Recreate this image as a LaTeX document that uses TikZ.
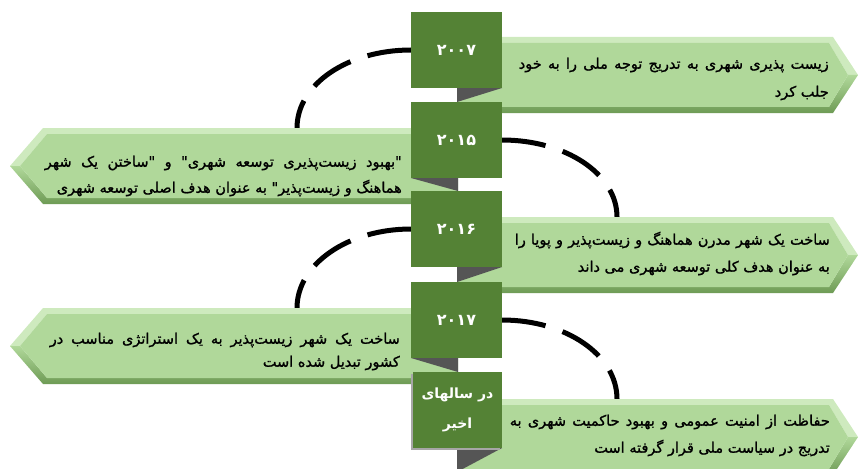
\documentclass[tikz,border=0pt]{standalone}
\usepackage{fontspec}
\newfontfamily\arabicfont[Script=Arabic,FakeBold=1.2]{DejaVu Sans}
\newfontfamily\yearfont[Script=Arabic]{DejaVu Sans}
\TeXXeTstate=1
\definecolor{yeargreen}{RGB}{84,130,53}
\definecolor{boxgreen}{RGB}{176,216,154}
\definecolor{bevellight}{RGB}{206,234,190}
\definecolor{beveldark}{RGB}{110,155,85}
\definecolor{foldgrey}{RGB}{85,85,85}
\newcommand\rarrowshape[1]{%
  \fill[bevellight] (457,#1) -- (833,#1) -- (858,#1+38) -- (848,#1+38) -- (829,#1+6) -- (457,#1+6) -- cycle;
  \shade[top color=boxgreen, bottom color=beveldark] (457,#1+70) -- (829,#1+70) -- (848,#1+38) -- (858,#1+38) -- (833,#1+76) -- (457,#1+76) -- cycle;
  \fill[boxgreen] (457,#1+6) -- (829,#1+6) -- (848,#1+38) -- (829,#1+70) -- (457,#1+70) -- cycle;
}
\newcommand\larrowshape[1]{%
  \fill[bevellight] (458,#1) -- (43,#1) -- (10,#1+38) -- (20,#1+38) -- (47,#1+6) -- (458,#1+6) -- cycle;
  \shade[top color=boxgreen, bottom color=beveldark] (458,#1+70) -- (47,#1+70) -- (20,#1+38) -- (10,#1+38) -- (43,#1+76) -- (458,#1+76) -- cycle;
  \fill[boxgreen] (458,#1+6) -- (47,#1+6) -- (20,#1+38) -- (47,#1+70) -- (458,#1+70) -- cycle;
}
\newcommand\justline[2]{\hbox to #1{\spaceskip=0.22em plus 1fil #2}}
\begin{document}
\begin{tikzpicture}[x=1pt,y=-1pt,
  yearbox/.style={fill=yeargreen, minimum width=91pt, minimum height=76pt, inner sep=0pt,
    text=white, font=\yearfont\bfseries\fontsize{16}{30}\selectfont, align=center},
  txt/.style={anchor=east, inner sep=0pt, text=black, font=\arabicfont\fontsize{14.5}{16}\selectfont},
  dasharc/.style={line width=5pt, dash pattern=on 44pt off 18pt},
  fold/.style={fill=foldgrey}]
\useasboundingbox (0,0) rectangle (858,468);
\clip (0,0) rectangle (858,468);
\coordinate (c2015) at (297,128);
\coordinate (c2016) at (617,217);
\coordinate (c2017) at (297,308);
\coordinate (crecent) at (617,399);
\path (456.5,50) coordinate (p2007) (456.5,140) coordinate (p2015) (456.5,229) coordinate (p2016)
      (456.5,320) coordinate (p2017);
% arcs
\draw[dasharc] (411,50) .. controls +(-63,0) and +(0,-44) .. (c2015);
\draw[dasharc] (502,140) .. controls +(64,0) and +(0,-43) .. (c2016);
\draw[dasharc] (411,229) .. controls +(-63,0) and +(0,-44) .. (c2017);
\draw[dasharc] (502,320) .. controls +(64,0) and +(0,-44) .. (crecent);
% arrow boxes
\rarrowshape{37}
\larrowshape{128}
\rarrowshape{217}
\larrowshape{308}
\rarrowshape{399}
% folds
\fill[fold] (457,88) -- (502,88) -- (457,102) -- cycle;
\fill[fold] (411,178) -- (458,178) -- (458,191) -- cycle;
\fill[fold] (457,267) -- (502,267) -- (457,282) -- cycle;
\fill[fold] (411,358) -- (458,358) -- (458,372) -- cycle;
\fill[fold] (457,448) -- (502,448) -- (457,472) -- cycle;
% year boxes
\node[yearbox] (y2007) at (p2007) {۲۰۰۷};
\node[yearbox] (y2015) at (p2015) {۲۰۱۵};
\node[yearbox] (y2016) at (p2016) {۲۰۱۶};
\node[yearbox] (y2017) at (p2017) {۲۰۱۷};
\fill[gray!70] (411,374) rectangle (500,450);
\node[yearbox, minimum width=89pt, font=\yearfont\bfseries\fontsize{14}{30}\selectfont] (yrecent) at (457.5,410) {\beginR در سالهای\endR\\\beginR اخیر\endR};
% texts
\node[txt] (t2007a) at (829,65) {\justline{310pt}{\beginR زیست پذیری شهری به تدریج توجه ملی را به خود\endR}};
\node[txt] (t2007b) at (829,93) {\beginR جلب کرد\endR};
\node[txt] (t2015a) at (402,163) {\justline{357pt}{\beginR "بهبود زیست^^^^200cپذیری توسعه شهری" و "ساختن یک شهر\endR}};
\node[txt] (t2015b) at (402,188) {\beginR هماهنگ و زیست^^^^200cپذیر" به عنوان هدف اصلی توسعه شهری\endR};
\node[txt] (t2016a) at (830,240) {\justline{315pt}{\beginR ساخت یک شهر مدرن هماهنگ و زیست^^^^200cپذیر و پویا را\endR}};
\node[txt] (t2016b) at (830,268) {\beginR به عنوان هدف کلی توسعه شهری می داند\endR};
\node[txt] (t2017a) at (400,340) {\justline{350pt}{\beginR ساخت یک شهر زیست^^^^200cپذیر به یک استراتژی مناسب در\endR}};
\node[txt] (t2017b) at (400,363) {\beginR کشور تبدیل شده است\endR};
\node[txt] (trecenta) at (830,422) {\justline{320pt}{\beginR حفاظت از امنیت عمومی و بهبود حاکمیت شهری به\endR}};
\node[txt] (trecentb) at (830,448) {\beginR تدریج در سیاست ملی قرار گرفته است\endR};
\end{tikzpicture}
\end{document}
